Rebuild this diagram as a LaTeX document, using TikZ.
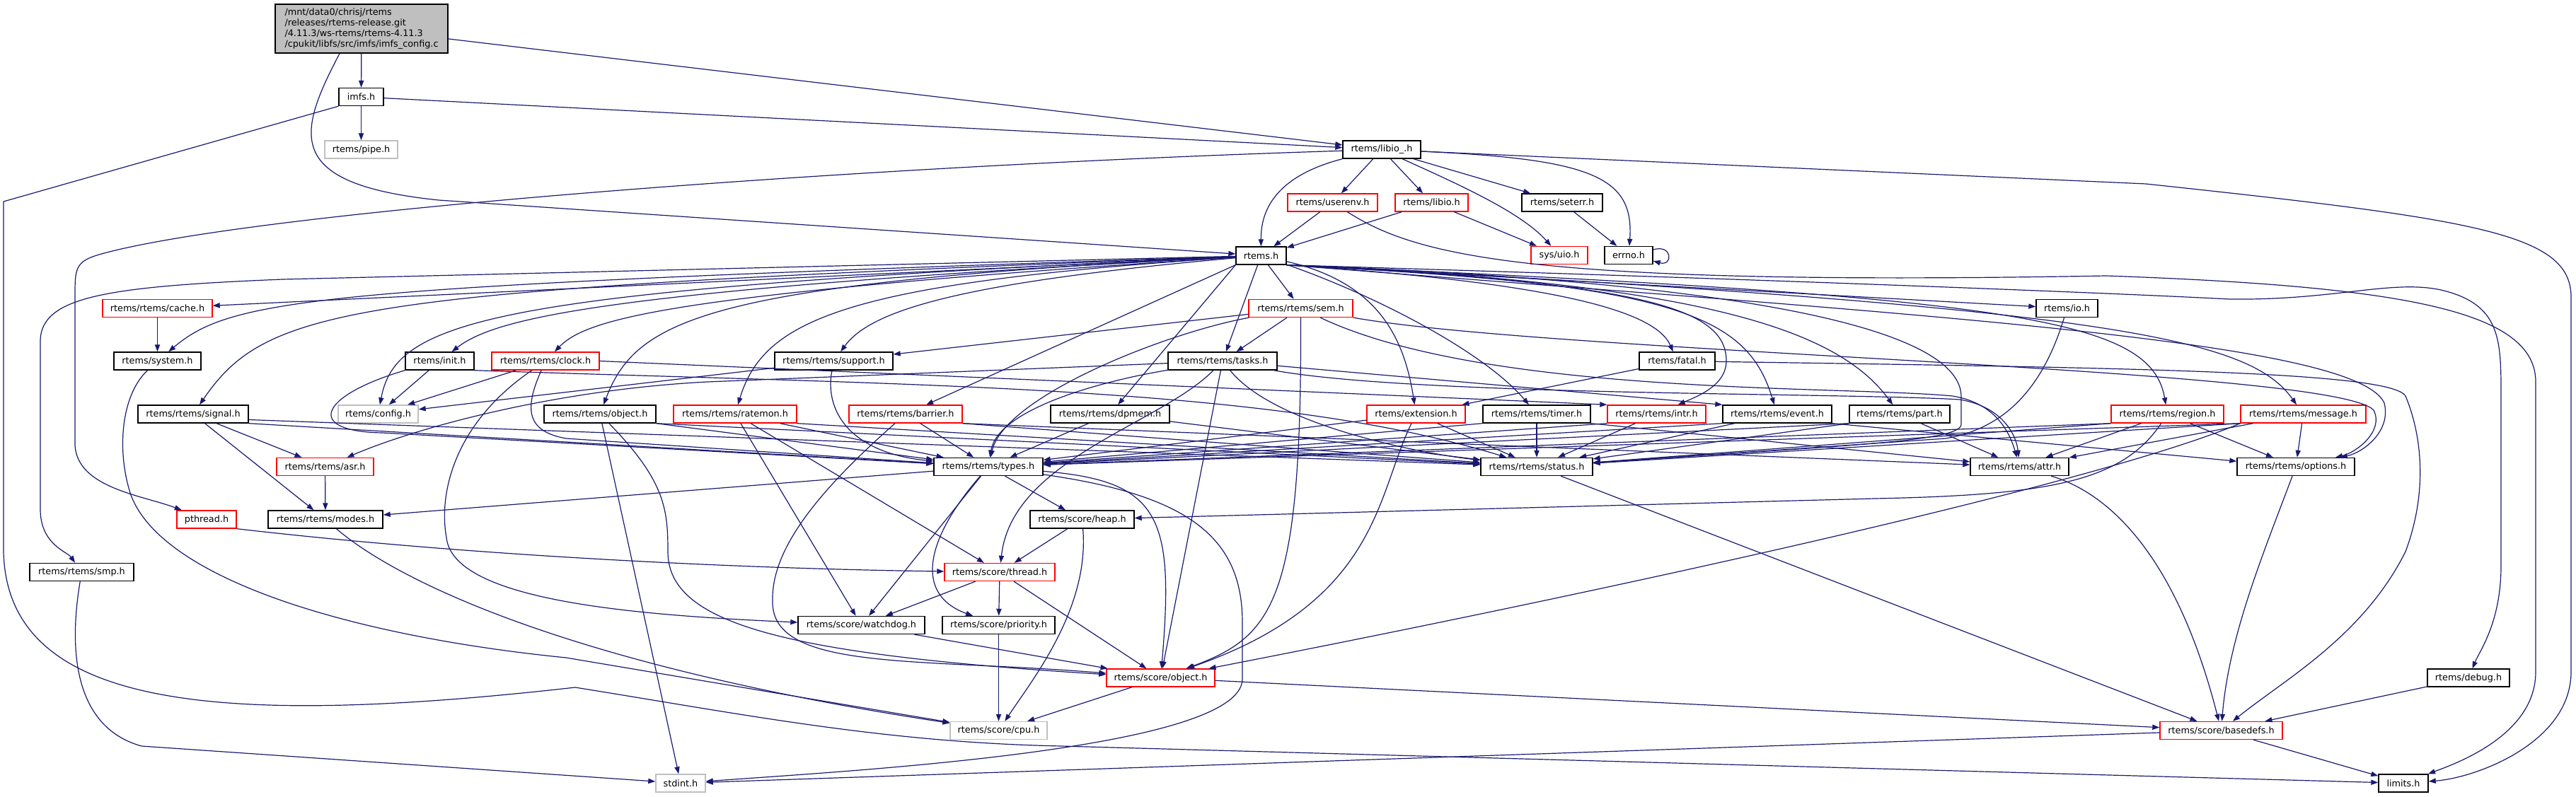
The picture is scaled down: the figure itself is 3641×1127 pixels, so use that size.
\documentclass[tikz,border=0pt]{standalone}
\usepackage{fontspec}
\setmainfont{DejaVu Sans}
\usetikzlibrary{arrows.meta}
\definecolor{edgeblue}{RGB}{25,25,112}
\definecolor{nodocgray}{RGB}{191,191,191}
\definecolor{srcfill}{RGB}{191,191,191}
\tikzset{
  hdr/.style={draw=black, fill=white, line width=0.7pt, inner sep=0pt,
    minimum height=12.5pt, font=\fontsize{6.4}{7.4}\selectfont},
  hdrred/.style={hdr, draw=red},
  hdrgray/.style={hdr, draw=nodocgray},
  wd/.style={minimum width=#1*0.5pt},
  incl/.style={draw=edgeblue, line width=0.6pt, -{Triangle[length=5pt,width=3.6pt]}}
}
\begin{document}
\begin{tikzpicture}[x=0.5pt, y=-0.5pt]
  \useasboundingbox (0,0) rectangle (3641,1127);
  \node[hdr, fill=srcfill, align=left, wd=244, minimum height=34.5pt] (cfg) at (511,40.5)
    {/mnt/data0/chrisj/rtems\\/releases/rtems-release.git\\/4.11.3/ws-rtems/rtems-4.11.3\\/cpukit/libfs/src/imfs/imfs\_config.c};
  \node[hdr, wd=63] (imfs) at (510.5,137) {imfs.h};
  \node[hdrgray, wd=103] (pipe) at (510.5,211.5) {rtems/pipe.h};
  \node[hdr, wd=110] (libioi) at (1953,211.5) {rtems/libio\_.h};
  \node[hdrred, wd=127] (userenv) at (1883.5,286.5) {rtems/userenv.h};
  \node[hdrred, wd=103] (libio) at (2023.5,286.5) {rtems/libio.h};
  \node[hdr, wd=114] (seterr) at (2208,286.5) {rtems/seterr.h};
  \node[hdrred, wd=80] (uio) at (2204,361) {sys/uio.h};
  \node[hdr, wd=68] (errno) at (2302,361) {errno.h};
  \node[hdr, wd=71] (rtemsh) at (1782.5,361.5) {rtems.h};
  \node[hdrred, wd=155] (cache) at (222.5,436) {rtems/rtems/cache.h};
  \node[hdrred, wd=147] (sem) at (1838.5,436) {rtems/rtems/sem.h};
  \node[hdr, wd=87] (io) at (2921.5,436) {rtems/io.h};
  \node[hdr, wd=123] (system) at (222.5,510.5) {rtems/system.h};
  \node[hdr, wd=97] (init) at (621.5,510.5) {rtems/init.h};
  \node[hdrred, wd=152] (clock) at (771,510.5) {rtems/rtems/clock.h};
  \node[hdr, wd=167] (support) at (1178.5,510.5) {rtems/rtems/support.h};
  \node[hdr, wd=154] (tasks) at (1728,510.5) {rtems/rtems/tasks.h};
  \node[hdr, wd=107] (fatal) at (2370.5,510.5) {rtems/fatal.h};
  \node[hdr, wd=156] (signal) at (273,585.5) {rtems/rtems/signal.h};
  \node[hdrgray, wd=113] (configh) at (534.5,585.5) {rtems/config.h};
  \node[hdr, wd=158] (objr) at (848,585.5) {rtems/rtems/object.h};
  \node[hdrred, wd=174] (ratemon) at (1039,585.5) {rtems/rtems/ratemon.h};
  \node[hdrred, wd=160] (barrier) at (1280,585.5) {rtems/rtems/barrier.h};
  \node[hdr, wd=168] (dpmem) at (1569,585.5) {rtems/rtems/dpmem.h};
  \node[hdrred, wd=139] (extension) at (2001.5,585.5) {rtems/extension.h};
  \node[hdr, wd=152] (timer) at (2172,585.5) {rtems/rtems/timer.h};
  \node[hdrred, wd=139] (intr) at (2341.5,585.5) {rtems/rtems/intr.h};
  \node[hdr, wd=154] (event) at (2512,585.5) {rtems/rtems/event.h};
  \node[hdr, wd=142] (part) at (2685,585.5) {rtems/rtems/part.h};
  \node[hdrred, wd=159] (region) at (3063.5,585.5) {rtems/rtems/region.h};
  \node[hdrred, wd=177] (message) at (3255.5,585.5) {rtems/rtems/message.h};
  \node[hdrred, wd=137] (asr) at (459.5,660) {rtems/rtems/asr.h};
  \node[hdr, wd=154] (types) at (1397,660) {rtems/rtems/types.h};
  \node[hdr, wd=158] (status) at (2172,660) {rtems/rtems/status.h};
  \node[hdr, wd=139] (attr) at (2854.5,660) {rtems/rtems/attr.h};
  \node[hdr, wd=166] (options) at (3245,660) {rtems/rtems/options.h};
  \node[hdrred, wd=84] (pthread) at (292,734.5) {pthread.h};
  \node[hdr, wd=162] (modes) at (460,734.5) {rtems/rtems/modes.h};
  \node[hdr, wd=147] (heap) at (1529.5,734.5) {rtems/score/heap.h};
  \node[hdr, wd=147] (smp) at (115.5,809) {rtems/rtems/smp.h};
  \node[hdrred, wd=156] (thread) at (1413,809) {rtems/score/thread.h};
  \node[hdr, wd=179] (watchdog) at (1217.5,884) {rtems/score/watchdog.h};
  \node[hdr, wd=159] (priority) at (1411.5,884) {rtems/score/priority.h};
  \node[hdrred, wd=153] (sobject) at (1640.5,958.5) {rtems/score/object.h};
  \node[hdr, wd=116] (debug) at (3489,958.5) {rtems/debug.h};
  \node[hdrgray, wd=137] (cpu) at (1411.5,1033) {rtems/score/cpu.h};
  \node[hdrred, wd=173] (basedefs) at (3139.5,1033) {rtems/score/basedefs.h};
  \node[hdrgray, wd=70] (stdint) at (962,1107.5) {stdint.h};
  \node[hdr, wd=70] (limits) at (3397,1107.5) {limits.h};
  \begin{scope}[incl]
    \draw (cfg) to (imfs);
    \draw (cfg) to (libioi);
    \draw (cfg.south -| 480,0) .. controls (420,190) and (400,260) .. (620,283) -- (rtemsh);
    \draw (imfs) to (pipe);
    \draw (imfs) to (libioi);
    \draw (imfs.south west) -- (5,285) -- (5,780) .. controls (10,1000) and (300,1030) .. (813,972)
      .. controls (1050,1010) and (1250,1050) .. (1500,1055) -- (limits);
    \draw (libioi.south west) .. controls (1800,250) and (1782,300) .. (rtemsh);
    \draw (libioi) to (userenv);
    \draw (libioi) to (libio);
    \draw (libioi) .. controls (2060,260) and (2150,300) .. (uio);
    \draw (libioi) to (seterr);
    \draw (libioi) .. controls (2250,225) and (2310,250) .. (errno);
    \draw (libioi) -- (3033,260) .. controls (3500,310) and (3634,330) .. (3634,420) -- (3634,950)
      .. controls (3634,1050) and (3500,1100) .. (limits);
    \draw (libioi) .. controls (1200,235) and (350,300) .. (140,360) .. controls (106,370) and (106,380) .. (106,420)
      -- (106,630) .. controls (110,690) and (200,700) .. (pthread);
    \draw (userenv) to (rtemsh);
    \draw (userenv) .. controls (2000,360) and (2150,405) .. (2977,390) .. controls (3400,405) and (3584,440) .. (3584,540)
      -- (3584,950) .. controls (3584,1040) and (3470,1080) .. (limits);
    \draw (libio) to (rtemsh);
    \draw (libio) to (uio);
    \draw (seterr) to (errno);
    \draw ([yshift=4pt]errno.east) .. controls +(14pt,4pt) and +(14pt,-4pt) .. ([yshift=-4pt]errno.east);
    \draw (rtemsh) to (cache);
    \draw (rtemsh) .. controls (450,405) and (330,420) .. (system);
    \draw (rtemsh) -- (400,395) .. controls (150,405) and (60,420) .. (57,480) -- (57,720)
      .. controls (57,770) and (95,780) .. (smp);
    \draw (rtemsh) .. controls (500,410) and (380,430) .. (signal);
    \draw (rtemsh) .. controls (700,410) and (560,450) .. (configh);
    \draw (rtemsh) .. controls (850,410) and (700,450) .. (init);
    \draw (rtemsh) .. controls (950,415) and (830,450) .. (clock);
    \draw (rtemsh) .. controls (1000,400) and (900,450) .. (objr);
    \draw (rtemsh) .. controls (1200,400) and (1080,450) .. (ratemon);
    \draw (rtemsh) .. controls (1350,400) and (1230,440) .. (support);
    \draw (rtemsh.south west) to (barrier);
    \draw (rtemsh.south west) to (dpmem);
    \draw (rtemsh) to (tasks);
    \draw (rtemsh) to (sem);
    \draw (rtemsh) .. controls (1950,400) and (1985,480) .. (extension);
    \draw (rtemsh) .. controls (1950,420) and (2100,500) .. (timer);
    \draw (rtemsh.south east) .. controls (2200,400) and (2340,440) .. (fatal);
    \draw (rtemsh.south east) .. controls (2300,400) and (2440,430) .. (2440,510) .. controls (2440,545) and (2400,560) .. (intr);
    \draw (rtemsh.south east) .. controls (2380,400) and (2470,450) .. (event);
    \draw (rtemsh.south east) .. controls (2420,400) and (2600,470) .. (part);
    \draw (rtemsh.south east) to (io);
    \draw (rtemsh.south east) .. controls (2850,420) and (3040,450) .. (region);
    \draw (rtemsh.south east) .. controls (3000,435) and (3180,480) .. (message);
    \draw (rtemsh.south east) .. controls (2500,395) and (3000,415) .. (3151,423) .. controls (3300,425) and (3380,395) .. (3450,410)
      .. controls (3535,430) and (3535,480) .. (3535,560) -- (3535,800) .. controls (3535,880) and (3505,920) .. (debug);
    \draw (rtemsh.south east) .. controls (2500,400) and (2770,470) .. (2772,560) -- (2772,600)
      .. controls (2772,625) and (2600,630) .. (status);
    \draw (rtemsh.south east) .. controls (2700,445) and (3330,480) .. (3370,570) .. controls (3380,610) and (3340,640) .. (options);
    \draw (cache) to (system);
    \draw (system) .. controls (170,560) and (165,640) .. (185,700) .. controls (230,820) and (500,900) .. (800,930) -- (cpu);
    \draw (sem) to (support);
    \draw (sem) to (tasks);
    \draw (sem) .. controls (1650,470) and (1420,560) .. (types);
    \draw (sem.south) .. controls (1840,850) and (1800,900) .. (sobject);
    \draw (sem) .. controls (2100,560) and (2600,545) .. (2760,560) .. controls (2820,570) and (2840,610) .. (attr);
    \draw (sem) .. controls (2200,500) and (3300,520) .. (3355,580) .. controls (3370,610) and (3330,640) .. (options);
    \draw (tasks) -- (1000,540) .. controls (800,550) and (600,600) .. (asr);
    \draw (tasks) .. controls (1550,540) and (1410,580) .. (types);
    \draw (tasks) .. controls (1800,600) and (2000,640) .. (status);
    \draw (tasks) .. controls (1640,600) and (1430,650) .. (thread);
    \draw (tasks) to (sobject);
    \draw (tasks) .. controls (2000,560) and (2600,555) .. (2770,565) .. controls (2830,575) and (2850,615) .. (attr);
    \draw (tasks) to (event.north west);
    \draw (fatal) to (extension);
    \draw (fatal) .. controls (3000,520) and (3380,525) .. (3400,560) .. controls (3425,620) and (3430,700) .. (3400,780)
      .. controls (3340,900) and (3230,960) .. (basedefs);
    \draw (io) .. controls (2890,540) and (2840,605) .. (2750,620) -- (status);
    \draw (clock) to (configh);
    \draw (clock) .. controls (640,600) and (620,700) .. (631,760) .. controls (640,850) and (900,870) .. (watchdog);
    \draw (clock) .. controls (740,580) and (745,610) .. (800,620) -- (types);
    \draw (clock.east) to (intr.north west);
    \draw (init) to (configh);
    \draw (init.south west) .. controls (450,560) and (430,610) .. (540,612) -- (types);
    \draw (init.south east) .. controls (1300,545) and (1800,545) .. (status);
    \draw (support) to (configh);
    \draw (support) .. controls (1165,580) and (1200,640) .. (types);
    \draw (signal) to (asr);
    \draw (signal) to (modes);
    \draw (signal.south east) to (types);
    \draw ([yshift=-4pt]signal.east) to (status);
    \draw (objr.south east) to (types);
    \draw (objr.south east) to (status);
    \draw (objr) to (stdint);
    \draw (objr) .. controls (940,680) and (944,720) .. (944,780) .. controls (944,880) and (1100,925) .. (sobject);
    \draw (ratemon) to (types);
    \draw (ratemon.south east) to (status);
    \draw (ratemon) to (watchdog);
    \draw (ratemon) to (thread);
    \draw (barrier) to (types);
    \draw (barrier.south east) to (status);
    \draw (barrier.south east) to (attr);
    \draw (barrier) .. controls (1150,700) and (1090,780) .. (1092,850) .. controls (1090,950) and (1300,930) .. (sobject);
    \draw (dpmem) to (types);
    \draw (dpmem) to (status);
    \draw (extension) to (types);
    \draw (extension) to (status);
    \draw (extension) .. controls (1945,700) and (1950,850) .. (sobject);
    \draw (timer.south west) to (types);
    \draw (timer) to (status);
    \draw (timer.south east) to (attr);
    \draw (intr.south west) to (types);
    \draw (intr) to (status);
    \draw (event.south west) to (types);
    \draw (event) to (status);
    \draw (event.south east) to (options);
    \draw (part.south west) to (types);
    \draw (part.south west) to (status);
    \draw (part) to (attr);
    \draw (region.south west) to (types);
    \draw (region.south west) to (status);
    \draw (region) to (attr);
    \draw (region) to (options);
    \draw (region) .. controls (3000,680) and (2900,700) .. (2650,705) -- (heap);
    \draw (message.south west) to (types);
    \draw (message.south west) to (status);
    \draw (message) to (attr);
    \draw (message) to (options);
    \draw (message.south west) .. controls (2950,690) and (2200,850) .. (sobject);
    \draw (asr) to (modes);
    \draw (types) to (modes);
    \draw (types) to (heap);
    \draw (types) to (watchdog);
    \draw (types) .. controls (1310,760) and (1290,840) .. (priority);
    \draw (types) .. controls (1640,680) and (1660,730) .. (sobject);
    \draw (types) .. controls (1680,700) and (1756,760) .. (1756,880) -- (1756,960)
      .. controls (1756,1060) and (1200,1090) .. (stdint);
    \draw (heap) to (thread);
    \draw (heap) .. controls (1540,860) and (1460,960) .. (cpu);
    \draw (pthread.south east) .. controls (700,790) and (1100,805) .. (thread);
    \draw (modes) .. controls (560,820) and (800,940) .. (cpu);
    \draw (smp) .. controls (95,930) and (110,1030) .. (200,1055) -- (stdint);
    \draw (thread) to (watchdog);
    \draw (thread) to (priority);
    \draw (thread) to (sobject);
    \draw (watchdog) to (sobject);
    \draw (priority) to (cpu);
    \draw (sobject) to (cpu);
    \draw (sobject) to (basedefs);
    \draw (status) to (basedefs);
    \draw (attr) .. controls (2990,700) and (3080,800) .. (basedefs);
    \draw (options) .. controls (3200,780) and (3150,900) .. (basedefs);
    \draw (debug) to (basedefs);
    \draw (basedefs) to (stdint);
    \draw (basedefs) to (limits);
  \end{scope}
\end{tikzpicture}
\end{document}
